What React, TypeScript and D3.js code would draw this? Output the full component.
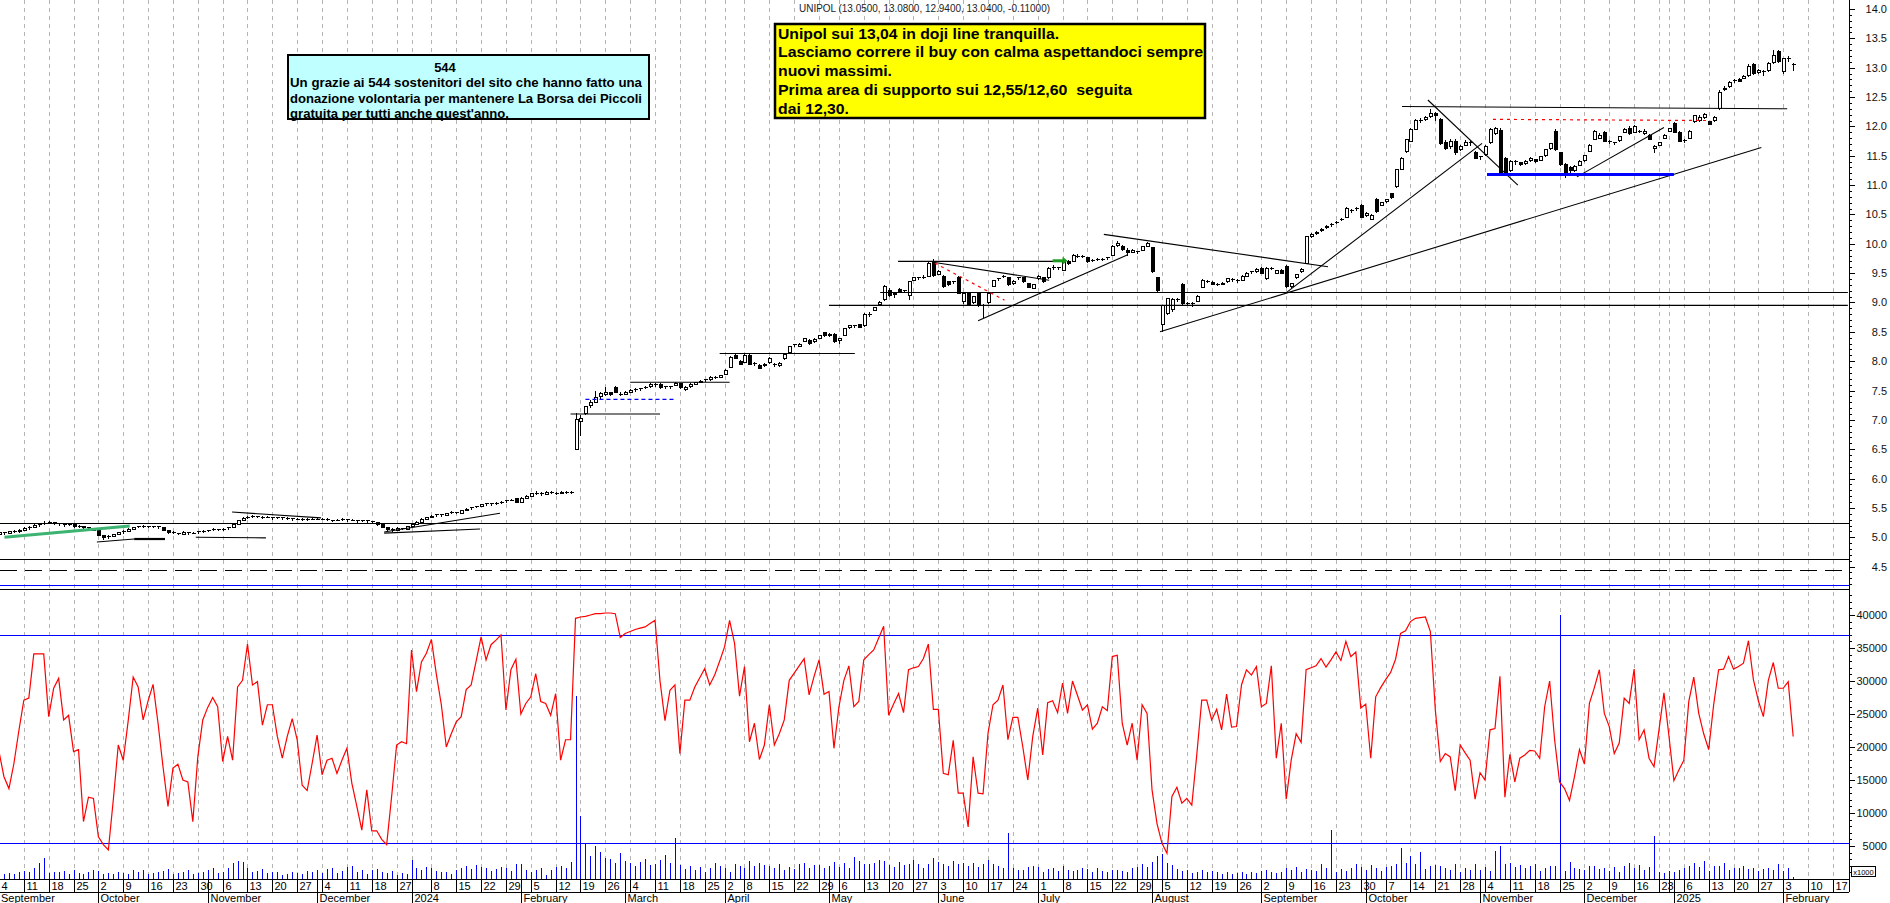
import React from 'react';
import * as d3 from 'd3';

type Candle = [number, number, number, number]; // open, high, low, close

// ---- daily candles, one array per month ----
const sep23: Candle[] = [
  [5.05, 5.10, 5.03, 5.08], [5.08, 5.09, 5.04, 5.06], [5.06, 5.11, 5.05, 5.10], [5.10, 5.12, 5.07, 5.09], [5.09, 5.14, 5.08, 5.12],
  [5.12, 5.17, 5.11, 5.15], [5.15, 5.19, 5.13, 5.17], [5.17, 5.22, 5.16, 5.20], [5.20, 5.24, 5.18, 5.22], [5.22, 5.27, 5.21, 5.24],
  [5.24, 5.28, 5.22, 5.25], [5.25, 5.26, 5.21, 5.23], [5.23, 5.24, 5.19, 5.21], [5.21, 5.23, 5.18, 5.20], [5.20, 5.24, 5.19, 5.22],
  [5.22, 5.23, 5.16, 5.18], [5.18, 5.21, 5.16, 5.19], [5.19, 5.20, 5.14, 5.16], [5.16, 5.18, 5.13, 5.15], [5.15, 5.16, 5.10, 5.12],
];
const oct23: Candle[] = [
  [5.11, 5.12, 5.02, 5.03], [5.03, 5.04, 4.96, 4.99], [4.99, 5.03, 4.97, 5.01], [5.01, 5.06, 5.00, 5.04], [5.04, 5.09, 5.03, 5.08],
  [5.08, 5.12, 5.06, 5.10], [5.10, 5.15, 5.09, 5.13], [5.13, 5.18, 5.12, 5.16], [5.16, 5.20, 5.15, 5.18], [5.18, 5.21, 5.16, 5.19],
  [5.19, 5.20, 5.15, 5.17], [5.17, 5.20, 5.16, 5.18], [5.18, 5.19, 5.14, 5.16], [5.16, 5.17, 5.10, 5.12], [5.12, 5.13, 5.06, 5.08],
  [5.08, 5.10, 5.05, 5.07], [5.07, 5.08, 5.03, 5.05], [5.05, 5.10, 5.04, 5.08], [5.08, 5.09, 5.04, 5.06], [5.06, 5.09, 5.05, 5.07],
  [5.07, 5.11, 5.06, 5.09], [5.09, 5.12, 5.08, 5.10],
];
const nov23: Candle[] = [
  [5.10, 5.13, 5.09, 5.11], [5.11, 5.15, 5.10, 5.13], [5.13, 5.14, 5.10, 5.12], [5.12, 5.16, 5.11, 5.14], [5.14, 5.18, 5.13, 5.16],
  [5.16, 5.24, 5.15, 5.22], [5.22, 5.30, 5.21, 5.28], [5.28, 5.34, 5.27, 5.32], [5.32, 5.36, 5.31, 5.33], [5.33, 5.38, 5.32, 5.35],
  [5.35, 5.37, 5.32, 5.34], [5.34, 5.36, 5.31, 5.33], [5.33, 5.36, 5.32, 5.34], [5.34, 5.35, 5.30, 5.32], [5.32, 5.35, 5.31, 5.33],
  [5.33, 5.34, 5.29, 5.31], [5.31, 5.34, 5.30, 5.32], [5.32, 5.33, 5.28, 5.30], [5.30, 5.33, 5.29, 5.31], [5.31, 5.32, 5.27, 5.29],
  [5.29, 5.32, 5.28, 5.30], [5.30, 5.33, 5.29, 5.31],
];
const dec23: Candle[] = [
  [5.31, 5.33, 5.29, 5.30], [5.30, 5.33, 5.29, 5.31], [5.31, 5.32, 5.27, 5.29], [5.29, 5.30, 5.26, 5.28], [5.28, 5.31, 5.27, 5.29],
  [5.29, 5.32, 5.28, 5.30], [5.30, 5.31, 5.26, 5.28], [5.28, 5.31, 5.27, 5.29], [5.29, 5.30, 5.25, 5.27], [5.27, 5.30, 5.26, 5.28],
  [5.28, 5.29, 5.24, 5.26], [5.26, 5.27, 5.23, 5.25], [5.25, 5.26, 5.19, 5.21], [5.21, 5.22, 5.15, 5.17], [5.17, 5.18, 5.11, 5.14],
  [5.14, 5.15, 5.09, 5.12], [5.12, 5.17, 5.11, 5.15], [5.15, 5.16, 5.12, 5.14], [5.14, 5.20, 5.13, 5.18],
];
const jan24: Candle[] = [
  [5.18, 5.24, 5.17, 5.22], [5.22, 5.27, 5.21, 5.25], [5.25, 5.32, 5.24, 5.30], [5.30, 5.35, 5.29, 5.33], [5.33, 5.38, 5.32, 5.36],
  [5.36, 5.40, 5.35, 5.38], [5.38, 5.39, 5.35, 5.37], [5.37, 5.42, 5.36, 5.40], [5.40, 5.44, 5.39, 5.42], [5.42, 5.43, 5.39, 5.41],
  [5.41, 5.47, 5.40, 5.45], [5.45, 5.50, 5.44, 5.48], [5.48, 5.52, 5.47, 5.50], [5.50, 5.54, 5.49, 5.52], [5.52, 5.57, 5.51, 5.55],
  [5.55, 5.59, 5.54, 5.57], [5.57, 5.58, 5.54, 5.56], [5.56, 5.60, 5.55, 5.58], [5.58, 5.62, 5.57, 5.60], [5.60, 5.64, 5.59, 5.62],
  [5.62, 5.66, 5.61, 5.63], [5.66, 5.67, 5.59, 5.60],
];
const feb24: Candle[] = [
  [5.60, 5.68, 5.59, 5.66], [5.66, 5.72, 5.65, 5.70], [5.70, 5.76, 5.69, 5.74], [5.74, 5.78, 5.72, 5.75], [5.75, 5.77, 5.71, 5.73],
  [5.73, 5.78, 5.72, 5.76], [5.76, 5.78, 5.73, 5.75], [5.75, 5.77, 5.72, 5.74], [5.74, 5.79, 5.73, 5.77], [5.77, 5.79, 5.74, 5.75],
  [5.75, 5.78, 5.74, 5.76], [6.50, 7.12, 6.48, 7.00], [6.98, 7.08, 6.72, 7.03], [7.10, 7.24, 7.08, 7.22], [7.24, 7.34, 7.20, 7.30],
  [7.30, 7.50, 7.28, 7.38], [7.40, 7.48, 7.36, 7.45], [7.43, 7.56, 7.41, 7.46], [7.46, 7.48, 7.40, 7.43], [7.55, 7.58, 7.45, 7.47],
  [7.44, 7.47, 7.40, 7.43],
];
const mar24: Candle[] = [
  [7.43, 7.49, 7.42, 7.47], [7.47, 7.52, 7.46, 7.50], [7.50, 7.54, 7.48, 7.52], [7.52, 7.55, 7.50, 7.53], [7.53, 7.57, 7.52, 7.55],
  [7.56, 7.63, 7.55, 7.60], [7.58, 7.63, 7.56, 7.60], [7.61, 7.62, 7.53, 7.55], [7.55, 7.58, 7.53, 7.56], [7.56, 7.58, 7.53, 7.56],
  [7.58, 7.64, 7.57, 7.62], [7.62, 7.63, 7.52, 7.55], [7.52, 7.58, 7.50, 7.55], [7.56, 7.62, 7.55, 7.60], [7.60, 7.65, 7.59, 7.63],
  [7.63, 7.68, 7.62, 7.66], [7.66, 7.70, 7.64, 7.68], [7.68, 7.74, 7.67, 7.72], [7.71, 7.74, 7.69, 7.72], [7.72, 7.77, 7.71, 7.75],
];
const apr24: Candle[] = [
  [7.78, 7.86, 7.77, 7.84], [7.90, 8.09, 7.88, 8.07], [8.10, 8.12, 8.03, 8.05], [8.00, 8.02, 7.93, 7.95], [7.98, 8.12, 7.97, 8.10],
  [8.10, 8.12, 7.93, 7.95], [7.96, 7.98, 7.92, 7.95], [7.93, 7.95, 7.86, 7.88], [7.92, 7.97, 7.90, 7.95], [7.98, 8.07, 7.96, 8.05],
  [7.95, 7.97, 7.90, 7.93], [7.92, 7.98, 7.90, 7.96], [8.04, 8.13, 8.02, 8.12], [8.14, 8.26, 8.13, 8.25], [8.26, 8.30, 8.24, 8.28],
  [8.25, 8.31, 8.24, 8.29], [8.34, 8.40, 8.32, 8.38], [8.36, 8.38, 8.28, 8.30], [8.33, 8.39, 8.31, 8.37], [8.39, 8.44, 8.38, 8.43],
  [8.48, 8.50, 8.41, 8.44],
];
const may24: Candle[] = [
  [8.43, 8.48, 8.42, 8.46], [8.46, 8.48, 8.31, 8.33], [8.35, 8.40, 8.30, 8.38], [8.44, 8.56, 8.43, 8.55], [8.57, 8.62, 8.55, 8.60],
  [8.59, 8.62, 8.57, 8.60], [8.63, 8.64, 8.56, 8.58], [8.60, 8.82, 8.59, 8.80], [8.78, 8.83, 8.76, 8.80], [8.86, 8.92, 8.85, 8.91],
  [8.97, 9.02, 8.96, 9.00], [9.05, 9.30, 9.03, 9.27], [9.20, 9.24, 9.10, 9.12], [9.13, 9.18, 9.08, 9.16], [9.22, 9.24, 9.16, 9.18],
  [9.20, 9.22, 9.16, 9.19], [9.12, 9.36, 9.05, 9.35], [9.38, 9.44, 9.37, 9.42], [9.41, 9.44, 9.39, 9.42], [9.42, 9.46, 9.40, 9.43],
  [9.45, 9.70, 9.44, 9.67], [9.70, 9.74, 9.44, 9.46],
];
const jun24: Candle[] = [
  [9.48, 9.56, 9.46, 9.52], [9.45, 9.47, 9.25, 9.27], [9.35, 9.37, 9.28, 9.30], [9.33, 9.37, 9.32, 9.35], [9.43, 9.45, 9.14, 9.16],
  [9.01, 9.16, 8.98, 9.15], [9.15, 9.17, 8.95, 8.97], [9.00, 9.11, 8.98, 9.10], [9.15, 9.16, 8.93, 8.95], [8.95, 8.97, 8.73, 8.94],
  [9.00, 9.18, 8.98, 9.16], [9.28, 9.38, 9.26, 9.37], [9.38, 9.42, 9.36, 9.40], [9.43, 9.47, 9.41, 9.45], [9.42, 9.44, 9.28, 9.30],
  [9.32, 9.38, 9.30, 9.35], [9.40, 9.44, 9.39, 9.42], [9.42, 9.44, 9.33, 9.35], [9.32, 9.34, 9.24, 9.25], [9.24, 9.31, 9.23, 9.30],
];
const jul24: Candle[] = [
  [9.40, 9.47, 9.38, 9.45], [9.42, 9.44, 9.33, 9.35], [9.42, 9.60, 9.40, 9.58], [9.58, 9.63, 9.56, 9.60], [9.59, 9.61, 9.55, 9.58],
  [9.55, 9.72, 9.54, 9.70], [9.70, 9.73, 9.64, 9.66], [9.70, 9.82, 9.69, 9.80], [9.78, 9.82, 9.76, 9.79], [9.79, 9.81, 9.75, 9.78],
  [9.76, 9.78, 9.68, 9.70], [9.71, 9.74, 9.69, 9.72], [9.72, 9.75, 9.70, 9.73], [9.74, 9.76, 9.70, 9.72], [9.74, 9.78, 9.73, 9.76],
  [9.80, 9.98, 9.79, 9.96], [9.97, 10.04, 9.95, 10.00], [9.95, 9.98, 9.88, 9.90], [9.88, 9.92, 9.80, 9.85], [9.85, 9.91, 9.84, 9.88],
  [9.86, 9.88, 9.82, 9.85], [9.88, 9.97, 9.87, 9.95], [9.96, 10.03, 9.94, 10.00],
];
const aug24: Candle[] = [
  [9.93, 9.95, 9.50, 9.52], [9.42, 9.44, 9.18, 9.20], [8.62, 8.96, 8.50, 8.94], [8.82, 9.08, 8.78, 9.06], [8.88, 9.07, 8.84, 9.05],
  [9.03, 9.08, 9.01, 9.05], [9.31, 9.33, 8.96, 8.98], [8.98, 9.00, 8.94, 8.97], [8.97, 9.00, 8.93, 8.98], [9.02, 9.12, 9.00, 9.10],
  [9.25, 9.40, 9.24, 9.38], [9.36, 9.38, 9.33, 9.35], [9.34, 9.36, 9.29, 9.31], [9.31, 9.33, 9.28, 9.30], [9.30, 9.35, 9.29, 9.33],
  [9.35, 9.42, 9.34, 9.40], [9.39, 9.41, 9.35, 9.38], [9.38, 9.40, 9.34, 9.36], [9.38, 9.46, 9.37, 9.44], [9.45, 9.52, 9.44, 9.50],
  [9.50, 9.54, 9.49, 9.52], [9.52, 9.58, 9.51, 9.56],
];
const sep24: Candle[] = [
  [9.58, 9.60, 9.48, 9.50], [9.40, 9.60, 9.38, 9.58], [9.57, 9.60, 9.55, 9.58], [9.50, 9.56, 9.48, 9.54], [9.55, 9.57, 9.48, 9.50],
  [9.62, 9.64, 9.25, 9.27], [9.27, 9.34, 9.24, 9.32], [9.42, 9.48, 9.40, 9.47], [9.52, 9.58, 9.50, 9.57], [9.67, 10.14, 9.66, 10.12],
  [10.12, 10.18, 10.10, 10.15], [10.17, 10.22, 10.15, 10.20], [10.22, 10.27, 10.20, 10.25], [10.27, 10.32, 10.25, 10.30], [10.31, 10.35, 10.29, 10.33],
  [10.35, 10.39, 10.33, 10.37], [10.40, 10.44, 10.38, 10.42], [10.45, 10.62, 10.44, 10.60], [10.57, 10.59, 10.52, 10.55], [10.58, 10.63, 10.56, 10.60],
  [10.65, 10.67, 10.44, 10.45],
];
const oct24: Candle[] = [
  [10.48, 10.54, 10.46, 10.52], [10.42, 10.50, 10.40, 10.48], [10.75, 10.78, 10.53, 10.55], [10.66, 10.72, 10.64, 10.70], [10.72, 10.77, 10.70, 10.75],
  [10.85, 10.87, 10.76, 10.78], [10.97, 11.28, 10.95, 11.26], [11.27, 11.47, 11.25, 11.45], [11.57, 11.79, 11.55, 11.77], [11.75, 11.97, 11.73, 11.95],
  [11.95, 12.12, 11.93, 12.10], [12.08, 12.14, 12.05, 12.10], [12.12, 12.18, 12.10, 12.15], [12.16, 12.30, 12.14, 12.22], [12.22, 12.25, 12.10, 12.18],
  [12.12, 12.15, 11.68, 11.70], [11.72, 11.76, 11.60, 11.62], [11.65, 11.78, 11.62, 11.75], [11.75, 11.78, 11.52, 11.55], [11.60, 11.68, 11.58, 11.65],
  [11.68, 11.76, 11.66, 11.72], [11.72, 11.75, 11.66, 11.70], [11.56, 11.58, 11.44, 11.46],
];
const nov24: Candle[] = [
  [11.46, 11.50, 11.42, 11.48], [11.52, 11.68, 11.50, 11.65], [11.72, 11.98, 11.70, 11.94], [11.88, 11.99, 11.85, 11.96], [11.93, 11.97, 11.18, 11.20],
  [11.45, 11.48, 11.18, 11.22], [11.25, 11.42, 11.22, 11.40], [11.38, 11.43, 11.35, 11.40], [11.38, 11.40, 11.32, 11.35], [11.36, 11.42, 11.34, 11.40],
  [11.42, 11.47, 11.40, 11.45], [11.43, 11.45, 11.37, 11.40], [11.42, 11.50, 11.41, 11.48], [11.50, 11.62, 11.48, 11.60], [11.62, 11.72, 11.60, 11.70],
  [11.92, 11.96, 11.58, 11.60], [11.55, 11.57, 11.33, 11.35], [11.35, 11.37, 11.12, 11.22], [11.30, 11.32, 11.20, 11.24], [11.25, 11.34, 11.23, 11.32],
  [11.33, 11.42, 11.32, 11.40],
];
const dec24: Candle[] = [
  [11.42, 11.52, 11.40, 11.50], [11.58, 11.70, 11.56, 11.68], [11.78, 11.94, 11.76, 11.92], [11.80, 11.88, 11.78, 11.84], [11.90, 11.92, 11.73, 11.75],
  [11.74, 11.76, 11.70, 11.72], [11.71, 11.74, 11.69, 11.72], [11.76, 11.84, 11.74, 11.82], [11.90, 11.97, 11.88, 11.95], [11.97, 12.00, 11.86, 11.88],
  [11.90, 12.02, 11.88, 12.00], [11.92, 11.94, 11.88, 11.90], [11.88, 11.95, 11.86, 11.92], [11.85, 11.87, 11.76, 11.78], [11.62, 11.68, 11.55, 11.65],
  [11.68, 11.74, 11.66, 11.72], [11.80, 11.87, 11.78, 11.85], [11.92, 11.98, 11.90, 11.97],
];
const jan25: Candle[] = [
  [12.05, 12.07, 11.88, 11.90], [11.90, 11.92, 11.73, 11.75], [11.74, 11.78, 11.72, 11.76], [11.80, 11.94, 11.78, 11.92], [12.08, 12.20, 12.06, 12.18],
  [12.10, 12.20, 12.08, 12.15], [12.15, 12.22, 12.13, 12.20], [12.08, 12.10, 12.02, 12.03], [12.10, 12.17, 12.08, 12.15], [12.30, 12.62, 12.28, 12.58],
  [12.62, 12.68, 12.60, 12.65], [12.68, 12.78, 12.66, 12.75], [12.76, 12.80, 12.74, 12.78], [12.80, 12.82, 12.75, 12.76], [12.82, 12.88, 12.80, 12.85],
  [12.86, 13.06, 12.84, 13.02], [13.05, 13.08, 12.88, 12.90], [12.92, 12.98, 12.90, 12.95], [12.94, 12.96, 12.86, 12.92], [12.95, 13.10, 12.93, 13.07],
  [13.08, 13.30, 13.06, 13.20], [13.27, 13.30, 13.08, 13.10],
];
const feb25: Candle[] = [
  [12.93, 13.17, 12.90, 13.15], [13.14, 13.20, 13.10, 13.15], [13.05, 13.08, 12.94, 13.04],
];

const candles: Candle[] = [
  ...sep23, ...oct23, ...nov23, ...dec23, ...jan24, ...feb24, ...mar24, ...apr24, ...may24,
  ...jun24, ...jul24, ...aug24, ...sep24, ...oct24, ...nov24, ...dec24, ...jan25, ...feb25,
];

// ---- volume (x1000), one array per month ----
const volSep23 = [600, 800, 900, 700, 1000, 1200, 1100, 1700, 2400, 3200, 900, 1000, 1100, 1200, 800, 1300, 900, 700, 1100, 1300];
const volOct23 = [1200, 800, 900, 700, 1000, 900, 800, 1300, 1100, 1400, 700, 900, 1000, 1200, 1500, 700, 900, 1100, 1300, 800, 900, 1000];
const volNov23 = [1400, 1700, 900, 1000, 1600, 2400, 2800, 2600, 1600, 1100, 1200, 1500, 900, 1100, 1000, 600, 800, 1000, 900, 700, 1200, 1000];
const volDec23 = [1300, 900, 1500, 1700, 900, 1200, 1800, 2000, 1000, 1400, 800, 1300, 1500, 1100, 900, 1200, 600, 900, 700];
const volJan24 = [2900, 1600, 1400, 1800, 1600, 1200, 1000, 1100, 800, 1300, 1700, 1900, 1500, 2100, 1800, 1600, 1200, 1500, 1800, 1700, 1200, 2300];
const volFeb24 = [2300, 1400, 1000, 1400, 1600, 600, 1300, 1800, 2000, 1700, 2600, 27700, 9500, 5300, 3500, 5000, 4100, 3200, 3000, 2500, 4000];
const volMar24 = [2800, 2500, 2000, 2600, 3000, 2100, 2300, 2900, 3600, 2400, 6200, 2100, 1500, 2000, 1400, 1800, 1100, 1600, 2400, 1900];
const volApr24 = [1600, 1000, 2300, 2000, 1600, 2800, 1900, 2500, 2100, 1900, 1700, 2300, 1400, 1800, 1500, 2200, 2400, 1600, 2100, 2100, 1700];
const volMay24 = [2000, 2600, 1800, 2400, 1600, 3400, 2800, 2200, 2300, 2500, 2900, 2700, 2100, 1800, 2600, 2100, 2200, 2900, 2300, 1600, 2200, 3200];
const volJun24 = [2600, 2300, 2000, 2700, 2200, 2500, 1900, 2400, 1800, 2200, 2900, 2200, 2000, 1700, 7000, 1600, 1400, 1300, 1800, 1900];
const volJul24 = [1800, 1100, 1500, 1700, 1200, 1900, 1300, 1200, 1400, 1700, 1500, 1100, 1600, 1200, 1000, 1400, 1300, 1200, 1100, 1600, 1800, 2200, 1800];
const volAug24 = [2600, 3500, 3800, 2400, 2100, 1500, 1200, 1400, 900, 1100, 1300, 1000, 1200, 1100, 800, 1000, 700, 900, 1100, 800, 1000, 900];
const volSep24 = [1200, 1400, 1000, 900, 1100, 1600, 1300, 1800, 1100, 1500, 1400, 1200, 2200, 1600, 7500, 1100, 1500, 1200, 1600, 2300, 1800];
const volOct24 = [1400, 2100, 1600, 1200, 1800, 2000, 2300, 4700, 2500, 3500, 2200, 4100, 1500, 2000, 2100, 1900, 1600, 1300, 2200, 1000, 1600, 1400, 2300];
const volNov24 = [1400, 1800, 1200, 4200, 5000, 2300, 2400, 1800, 2100, 1700, 2000, 2300, 1200, 1600, 2000, 1900, 40000, 1200, 2600, 1700, 1500];
const volDec24 = [1300, 2000, 1900, 1500, 1600, 1200, 1800, 1100, 1900, 2400, 1600, 2100, 1400, 1800, 6500, 1000, 900, 1200];
const volJan25 = [1100, 1300, 1600, 2000, 2400, 1800, 2700, 1200, 2000, 1900, 2400, 1300, 1700, 1600, 1900, 1500, 1600, 1200, 1500, 1700, 1400, 2200];
const volFeb25 = [1200, 1600, 300];

const volume = [
  ...volSep23, ...volOct23, ...volNov23, ...volDec23, ...volJan24, ...volFeb24, ...volMar24, ...volApr24, ...volMay24,
  ...volJun24, ...volJul24, ...volAug24, ...volSep24, ...volOct24, ...volNov24, ...volDec24, ...volJan25, ...volFeb25,
];

// ---- red indicator line in the lower panel ----
const oscSepDec23 = [
  19300, 15500, 13700, 17500, 22500, 27100, 27400, 34100, 34100, 34100,
  24600, 28900, 30400, 24100, 24800, 19300, 19600, 8700, 12400, 12200,
  6400, 5200, 4400, 12000, 20300, 18000, 24000, 30600, 29100, 24100,
  27000, 29500, 23600, 17000, 11000, 16800, 17400, 15000, 14700, 8700,
  18500, 24100, 26000, 27500, 26100, 17800, 21600, 18000, 29100, 30100,
  35600, 29400, 29900, 23300, 26400, 26400, 21600, 18300, 21600, 24300,
  21100, 14200, 13400, 17500, 21800, 15800, 18000, 18300, 16000, 18000,
  19800, 14500, 11000, 7400, 13500, 7300, 7300, 6000, 5200, 12500,
  20300, 20800, 20500,
];
const oscJanApr24 = [
  34700, 28400, 32900, 34200, 36300, 31000, 26400, 20000, 22000, 23800,
  24600, 28700, 29400, 33000, 36700, 33200, 35500, 36200, 37000, 25600,
  31700, 33300, 25000, 26600, 27600, 31100, 26900, 26600, 24800, 28100,
  18000, 21100, 21100, 39500, 39700, 39800, 40000, 40200, 40200, 40300,
  40300, 40200, 36600, 37200, 37500, 37800, 38000, 38200, 38700, 39200,
  30000, 24000, 28600, 29400, 19000, 27100, 27100, 29100, 30500, 31900,
  29400, 30900, 33000, 35200, 39200, 35700, 27700, 32200, 20800, 23600,
  18100, 20300, 26400, 20300, 22000, 24100, 30100, 31200, 32300, 33400,
  27900, 30700, 33200, 28000,
];
const oscMayAug24 = [
  28400, 19800, 26100, 30100, 32300, 26100, 26900, 33200, 34000, 34700,
  36500, 38300, 24800, 26500, 28100, 25200, 31700, 32000, 32200, 33400,
  35600, 25700, 25700, 16000, 15800, 21000, 13000, 13000, 7900, 18500,
  13000, 12900, 22100, 26400, 27100, 29400, 21100, 24500, 24500, 20000,
  15000, 21600, 25900, 18800, 26700, 27000, 25200, 29700, 25100, 30000,
  27800, 25600, 26400, 22700, 23600, 26100, 25500, 33700, 33900, 23600,
  20300, 23600, 18000, 26400, 25100, 13500, 8400, 5400, 3900, 12500,
  13900, 11500, 12200, 11200, 18800, 27100, 27100, 24100, 25700, 22600,
  28000, 23000, 23100, 29400, 31700, 30900, 32200,
];
const oscSepDec24 = [
  26100, 26600, 32300, 18300, 23600, 12100, 18000, 22000, 20700, 31700,
  32000, 32300, 33400, 32100, 33200, 34400, 33100, 36000, 33700, 34400,
  25900, 26500, 18300, 27600, 29000, 30200, 31300, 33300, 37200, 37600,
  39000, 39500, 39600, 39700, 37500, 25600, 17800, 19000, 18500, 13400,
  20300, 19100, 18000, 12100, 16100, 15000, 22600, 22800, 30700, 12400,
  18900, 14700, 18300, 18800, 19500, 19400, 18300, 26100, 30000, 21100,
  14700, 13700, 11900, 15500, 19600, 17400, 26600, 29000, 31700, 25100,
  23100, 19000, 20600, 27400, 26600, 31800, 21100, 22600, 18300, 17000,
  22600, 28200, 21700,
];
const oscJanFeb25 = [
  14900, 16500, 18000, 26900, 30600, 25100, 22000, 19600, 26400, 31700,
  31800, 33700, 31800, 32200, 32700, 36100, 30200, 27000, 24600, 30100,
  32800, 28900, 28900, 29900, 21600,
];
const oscillator = [...oscSepDec23, ...oscJanApr24, ...oscMayAug24, ...oscSepDec24, ...oscJanFeb25];
const oscLevels = [37000, 5500];

// ---- calendar ----
const firstDay = '2023-09-04';
const lastDay = '2025-02-21';
const holidays = ['2023-12-25', '2023-12-26', '2024-01-01', '2024-03-29', '2024-04-01', '2024-05-01',
  '2024-12-24', '2024-12-25', '2024-12-26', '2024-12-31', '2025-01-01'];

// ---- analyst drawings: [dayIndex1, price1, dayIndex2, price2] ----
const priceLevels = [5.244, 4.63];
const dashedLevels = [4.44];
const blueLevels = [4.19];
const trendLines = [
  [19.7, 4.92, 27.2, 4.97], [39.6, 5.0, 53.7, 4.99], [46.9, 5.43, 64.8, 5.33], [77.5, 5.07, 96.8, 5.14],
  [77.5, 5.09, 100.8, 5.41], [115, 7.10, 133, 7.10], [127, 7.64, 147, 7.64], [145, 8.13, 172.2, 8.13],
  [167, 8.95, 372, 8.95], [177.3, 9.17, 372, 9.17], [180.9, 9.70, 213.5, 9.70], [188.3, 9.68, 211.3, 9.38],
  [197, 8.69, 227, 9.81], [222.3, 10.16, 267.4, 9.61], [233.6, 8.50, 354.6, 11.64], [259.2, 9.18, 298.4, 11.71],
  [287.5, 12.45, 305.6, 11.0], [282.3, 12.34, 359.8, 12.30], [317.5, 11.14, 335, 11.98],
];
const thickLines = [[27.2, 4.97, 33.4, 4.97]];
const redDotted = [[188.3, 9.67, 202.3, 9.04], [300.6, 12.12, 344.3, 12.10]];
const blueDashed = [[118, 7.35, 135.8, 7.35]];
const blueThick = [[299.4, 11.18, 337, 11.18]];
const greenThick = [[1.1, 5.0, 26.3, 5.19]];
const greenArrow = [212, 9.71, 214.8, 9.71];

const titleText = 'UNIPOL (13.0500, 13.0800, 12.9400, 13.0400, -0.11000)';
const noteTitle = '544';
const noteLines = [
  'Un grazie ai 544 sostenitori del sito che hanno fatto una',
  'donazione volontaria per mantenere La Borsa dei Piccoli',
  "gratuita per tutti anche quest'anno.",
];
const commentLines = [
  'Unipol sui 13,04 in doji line tranquilla.',
  'Lasciamo correre il buy con calma aspettandoci sempre',
  'nuovi massimi.',
  'Prima area di supporto sui 12,55/12,60  seguita',
  'dai 12,30.',
];

const FONT = "'Liberation Sans', Arial, sans-serif";
const NARROW = "'Liberation Sans Narrow', 'Arial Narrow', 'Liberation Sans', Arial, sans-serif";

export default function App() {
  const right = 1849;
  const x = d3.scaleLinear().domain([0, 372]).range([-1, -1 + 372 * 4.97]);
  const yP = d3.scaleLinear().domain([4.5, 14]).range([566.6, 9]);
  const yV = d3.scaleLinear().domain([0, 40000]).range([879, 615]);

  const parse = d3.utcParse('%Y-%m-%d');
  const fmt = d3.utcFormat('%Y-%m-%d');
  const days = d3.utcDay
    .range(parse(firstDay) as Date, d3.utcDay.offset(parse(lastDay) as Date, 1))
    .filter((d) => d.getUTCDay() % 6 !== 0 && !holidays.includes(fmt(d)));

  const weekTicks = days
    .map((d, i) => ({ d, i }))
    .filter(({ d, i }) => i === 0 || +d3.utcMonday.floor(d) !== +d3.utcMonday.floor(days[i - 1]))
    .filter(({ i }) => x(i) < right);
  const monthTicks = days
    .map((d, i) => ({ d, i }))
    .filter(({ d, i }) => i > 0 && d.getUTCMonth() !== days[i - 1].getUTCMonth())
    .filter(({ i }) => x(i) < right);
  const weekHasNewYear = (d: Date) => {
    const mon = d3.utcMonday.floor(d);
    const sun = d3.utcDay.offset(mon, 6);
    return mon.getUTCFullYear() !== sun.getUTCFullYear() || (mon.getUTCMonth() === 0 && mon.getUTCDate() === 1);
  };
  const monthName = (d: Date) => (d.getUTCMonth() === 0 ? String(d.getUTCFullYear()) : d3.utcFormat('%B')(d));

  const px = (i: number) => Math.round(x(i)) + 0.5;
  const oscLine = d3
    .line<number>()
    .x((_, i) => x(i))
    .y((v) => yV(v));

  const priceTicks = d3.range(42, 141).map((v) => v / 10);
  const oscTicks = d3.range(1000, 44000, 1000);

  const seg = (s: number[], k: string, props: any) => (
    <line key={k} x1={x(s[0])} y1={yP(s[1])} x2={x(s[2])} y2={yP(s[3])} {...props} />
  );

  return (
    <svg
      width={1890}
      height={903}
      style={{ position: 'absolute', left: 0, top: 0, display: 'block' }}
      fontFamily={FONT}
    >
      <rect width={1890} height={903} fill="#fff" />

      {/* vertical weekly grid */}
      <g shapeRendering="crispEdges">
        {weekTicks.map(({ i }) => (
          <line key={'g' + i} x1={px(i)} x2={px(i)} y1={0} y2={879} stroke="#b4b4b4" strokeDasharray="4 4" />
        ))}
      </g>

      {/* full-width horizontal levels */}
      <g shapeRendering="crispEdges">
        {priceLevels.map((p) => (
          <line key={'pl' + p} x1={0} x2={right} y1={Math.round(yP(p)) + 0.5} y2={Math.round(yP(p)) + 0.5} stroke="#000" />
        ))}
        {dashedLevels.map((p) => (
          <line key={'dl' + p} x1={0} x2={right} y1={Math.round(yP(p)) + 0.5} y2={Math.round(yP(p)) + 0.5} stroke="#000" strokeWidth={1.5} strokeDasharray="17 8" />
        ))}
        {blueLevels.map((p) => (
          <line key={'bl' + p} x1={0} x2={right} y1={Math.round(yP(p)) + 0.5} y2={Math.round(yP(p)) + 0.5} stroke="#0000ff" />
        ))}
        <line x1={0} x2={right} y1={589.5} y2={589.5} stroke="#000" strokeWidth={1.5} />
        {oscLevels.map((v) => (
          <line key={'ol' + v} x1={0} x2={right} y1={Math.round(yV(v)) + 0.5} y2={Math.round(yV(v)) + 0.5} stroke="#0000ff" strokeWidth={1.5} />
        ))}
      </g>

      {/* volume bars */}
      <g shapeRendering="crispEdges">
        {volume.map((v, i) => (
          <line key={'v' + i} x1={px(i)} x2={px(i)} y1={yV(0)} y2={yV(v)} stroke="#0000ff" />
        ))}
      </g>

      {/* indicator */}
      <path d={oscLine(oscillator) || ''} fill="none" stroke="#ff0000" strokeWidth={1.2} />

      {/* candles */}
      <g shapeRendering="crispEdges">
        {candles.map(([o, h, l, c], i) => {
          const cx = px(i);
          const top = yP(Math.max(o, c));
          const bot = yP(Math.min(o, c));
          return (
            <g key={'c' + i}>
              <line x1={cx} x2={cx} y1={yP(h)} y2={yP(l)} stroke="#000" />
              {bot - top < 1.2 ? (
                <line x1={cx - 2} x2={cx + 2} y1={top} y2={top} stroke="#000" />
              ) : (
                <rect x={cx - 1.5} y={top} width={3} height={bot - top} fill={c >= o ? '#fff' : '#000'} stroke="#000" />
              )}
            </g>
          );
        })}
      </g>

      {/* analyst drawings */}
      <g>
        {greenThick.map((s, k) => seg(s, 'gt' + k, { stroke: '#3cb371', strokeWidth: 3 }))}
        {trendLines.map((s, k) => seg(s, 'tl' + k, { stroke: '#000', strokeWidth: 1.1 }))}
        {thickLines.map((s, k) => seg(s, 'th' + k, { stroke: '#000', strokeWidth: 2.2 }))}
        {redDotted.map((s, k) => seg(s, 'rd' + k, { stroke: '#ff0000', strokeWidth: 1.2, strokeDasharray: '3 4' }))}
        {blueDashed.map((s, k) => seg(s, 'bd' + k, { stroke: '#0000ff', strokeWidth: 1.3, strokeDasharray: '4 3' }))}
        {blueThick.map((s, k) => seg(s, 'bt' + k, { stroke: '#0000ff', strokeWidth: 3 }))}
        <line x1={x(greenArrow[0])} y1={yP(greenArrow[1])} x2={x(greenArrow[2]) - 3} y2={yP(greenArrow[3])} stroke="#1a9a1a" strokeWidth={3} />
        <path
          d={`M${x(greenArrow[2]) - 4},${yP(greenArrow[3]) - 4} L${x(greenArrow[2]) + 1},${yP(greenArrow[3])} L${x(greenArrow[2]) - 4},${yP(greenArrow[3]) + 4} Z`}
          fill="#1a9a1a"
        />
      </g>

      {/* right axis */}
      <g shapeRendering="crispEdges" stroke="#000">
        <line x1={right + 0.5} x2={right + 0.5} y1={0} y2={892} />
        {priceTicks.map((p) => {
          const major = Math.round(p * 10) % 5 === 0;
          const yy = Math.round(yP(p)) + 0.5;
          return <line key={'pt' + p} x1={right} x2={right + (major ? 6 : 3)} y1={yy} y2={yy} />;
        })}
        {oscTicks.map((v) => {
          const yy = Math.round(yV(v)) + 0.5;
          return <line key={'ot' + v} x1={right} x2={right + (v % 5000 === 0 ? 6 : 3)} y1={yy} y2={yy} />;
        })}
      </g>
      <g fontSize={11} fill="#111" textAnchor="end">
        {d3.range(45, 141, 5).map((v) => (
          <text key={'pl' + v} x={1887} y={yP(v / 10) + 4}>
            {(v / 10).toFixed(1)}
          </text>
        ))}
        {d3.range(5000, 40001, 5000).map((v) => (
          <text key={'vl' + v} x={1887} y={yV(v) + 4}>
            {v}
          </text>
        ))}
      </g>
      <rect x={1851.5} y={866.5} width={24} height={10} fill="#fff" stroke="#000" shapeRendering="crispEdges" />
      <text x={1863.5} y={874.5} fontSize={7.5} textAnchor="middle" fill="#000">
        x1000
      </text>

      {/* bottom date axis */}
      <g shapeRendering="crispEdges" stroke="#000">
        <line x1={0} x2={right} y1={879.5} y2={879.5} />
        <line x1={0} x2={right} y1={892.5} y2={892.5} />
        {weekTicks.map(({ i }) => (
          <line key={'wt' + i} x1={px(i)} x2={px(i)} y1={880} y2={892} />
        ))}
        {monthTicks.map(({ i }) => (
          <line key={'mt' + i} x1={px(i)} x2={px(i)} y1={880} y2={903} />
        ))}
      </g>
      <g fontSize={11} fill="#000">
        {weekTicks
          .filter(({ d, i }) => i === 0 || !weekHasNewYear(d))
          .map(({ d, i }) => (
            <text key={'wl' + i} x={px(i) + 2} y={890}>
              {d.getUTCDate()}
            </text>
          ))}
        <text x={1} y={902}>
          {monthName(days[0])}
        </text>
        {monthTicks.map(({ d, i }) => (
          <text key={'ml' + i} x={px(i) + 2} y={902}>
            {monthName(d)}
          </text>
        ))}
      </g>

      {/* title */}
      <text x={799} y={12} fontSize={11} fill="#222" textLength={251} lengthAdjust="spacingAndGlyphs">
        {titleText}
      </text>

      {/* cyan note */}
      <rect x={288} y={55} width={361} height={64} fill="#c0ffff" stroke="#000" strokeWidth={2} />
      <g fontFamily={NARROW} fontWeight="bold" fontSize={13} fill="#000">
        <text x={445} y={72} textAnchor="middle">
          {noteTitle}
        </text>
        {noteLines.map((t, k) => (
          <text key={'n' + k} x={290} y={87 + k * 15.5} textLength={[352, 352, 219][k]} lengthAdjust="spacingAndGlyphs">
            {t}
          </text>
        ))}
      </g>

      {/* yellow comment */}
      <rect x={775} y={24} width={430} height={94} fill="#ffff00" stroke="#000" strokeWidth={2.5} />
      <g fontWeight="bold" fontSize={15} fill="#000">
        {commentLines.map((t, k) => (
          <text
            key={'y' + k}
            x={778}
            y={38.5 + k * 18.8}
            xmlSpace="preserve"
            style={{ whiteSpace: 'pre' }}
            textLength={[281, 425, 114, 354, 71][k]}
            lengthAdjust="spacingAndGlyphs"
          >
            {t}
          </text>
        ))}
      </g>
    </svg>
  );
}
